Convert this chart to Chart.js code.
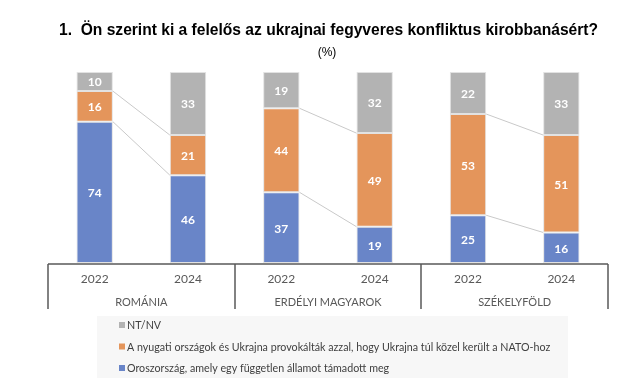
<!DOCTYPE html>
<html>
<head>
<meta charset="utf-8">
<script src="https://cdn.jsdelivr.net/npm/chart.js@4.4.1/dist/chart.umd.min.js"></script>
<style>
  html, body { margin: 0; padding: 0; background: #fff; }
  #wrap { width: 620px; height: 389px; }
</style>
</head>
<body>
<div id="wrap"><canvas id="chart" width="620" height="389"></canvas></div>
<script>
const years = ['2022', '2024', '2022', '2024', '2022', '2024'];
const groups = ['ROMÁNIA', 'ERDÉLYI MAGYAROK', 'SZÉKELYFÖLD'];
const russia = [74, 46, 37, 19, 25, 16];
const west = [16, 21, 44, 49, 53, 51];
const dontKnow = [10, 33, 19, 32, 22, 33];
const seriesNames = [
    'Oroszország, amely egy független államot támadott meg',
    'A nyugati országok és Ukrajna provokálták azzal, hogy Ukrajna túl közel került a NATO-hoz',
    'NT/NV'
];
const title = '1.  Ön szerint ki a felelős az ukrajnai fegyveres konfliktus kirobbanásért?';
const subtitle = '(%)';

const colors = ['#6985c8', '#e4955b', '#b3b3b3'];
const labelFont = 'Lato, "Open Sans", sans-serif';

// connectors, value labels, axis, title, legend
const extras = {
    id: 'extras',
    afterDatasetsDraw(chart) {
        const ctx = chart.ctx;
        const metas = [0, 1, 2].map(i => chart.getDatasetMeta(i));
        ctx.save();
        // lines between the two bars of each group
        ctx.strokeStyle = '#c9c9c9';
        ctx.lineWidth = 1;
        for (let g = 0; g < groups.length; g++) {
            for (let d = 0; d < 2; d++) {
                const a = metas[d].data[g * 2], b = metas[d].data[g * 2 + 1];
                ctx.beginPath();
                ctx.moveTo(a.x + a.width / 2, a.y);
                ctx.lineTo(b.x - b.width / 2, b.y);
                ctx.stroke();
            }
        }
        // value labels
        ctx.fillStyle = '#fff';
        ctx.font = 'bold 12px ' + labelFont;
        ctx.textAlign = 'center';
        ctx.textBaseline = 'middle';
        metas.forEach((m, di) => {
            m.data.forEach((el, i) => {
                const v = chart.data.datasets[di].data[i];
                ctx.fillText(v, el.x, (el.y + el.base) / 2 + 1);
            });
        });
        ctx.restore();
    },
    afterDraw(chart) {
        const ctx = chart.ctx;
        const area = chart.chartArea;
        const xs = chart.scales.x;
        ctx.save();
        // title
        ctx.fillStyle = '#000';
        ctx.textBaseline = 'alphabetic';
        ctx.textAlign = 'left';
        ctx.font = 'bold 15.6px "Liberation Sans", Arial, sans-serif';
        ctx.fillText(title, 59, 35);
        ctx.font = '12px "Liberation Sans", Arial, sans-serif';
        ctx.textAlign = 'center';
        ctx.fillText(subtitle, 327, 56);

        // category axis
        ctx.strokeStyle = '#595959';
        ctx.lineWidth = 1.5;
        ctx.beginPath();
        ctx.moveTo(area.left, area.bottom + 1);
        ctx.lineTo(area.right, area.bottom + 1);
        const step = (area.right - area.left) / groups.length;
        for (let g = 0; g <= groups.length; g++) {
            const x = Math.round(area.left + g * step);
            ctx.moveTo(x, area.bottom + 1);
            ctx.lineTo(x, area.bottom + 46);
        }
        ctx.stroke();

        ctx.fillStyle = '#595959';
        ctx.textBaseline = 'middle';
        ctx.font = '12px ' + labelFont;
        years.forEach((y, i) => ctx.fillText(y, xs.getPixelForValue(i), area.bottom + 16));
        ctx.font = '11px ' + labelFont;
        groups.forEach((g, i) => ctx.fillText(g, area.left + step * (i + 0.5), area.bottom + 39));

        // legend
        ctx.fillStyle = '#f7f7f7';
        ctx.fillRect(97, 316, 471, 62);
        ctx.textAlign = 'left';
        ctx.font = '10.7px ' + labelFont;
        const rows = [2, 1, 0];
        rows.forEach((di, r) => {
            const y = 325 + r * 21.5;
            ctx.fillStyle = colors[di];
            ctx.fillRect(119, y - 3, 6, 6);
            ctx.fillStyle = '#404040';
            ctx.fillText(chart.data.datasets[di].label, 127, y + 1);
        });
        ctx.restore();
    }
};

new Chart(document.getElementById('chart'), {
    type: 'bar',
    data: {
        labels: years,
        datasets: [
            { label: seriesNames[0], data: russia, backgroundColor: colors[0] },
            { label: seriesNames[1], data: west, backgroundColor: colors[1] },
            { label: seriesNames[2], data: dontKnow, backgroundColor: colors[2] }
        ]
    },
    options: {
        responsive: false,
        animation: false,
        layout: { padding: { left: 48, right: 12, top: 72, bottom: 126 } },
        datasets: {
            bar: {
                barPercentage: 0.39,
                categoryPercentage: 1,
                borderColor: '#e2e2e2',
                borderWidth: 1,
                borderSkipped: false
            }
        },
        scales: {
            x: { stacked: true, display: false },
            y: { stacked: true, display: false, min: 0, max: 100 }
        },
        plugins: {
            legend: { display: false },
            tooltip: { enabled: false }
        }
    },
    plugins: [extras]
});
</script>
</body>
</html>
